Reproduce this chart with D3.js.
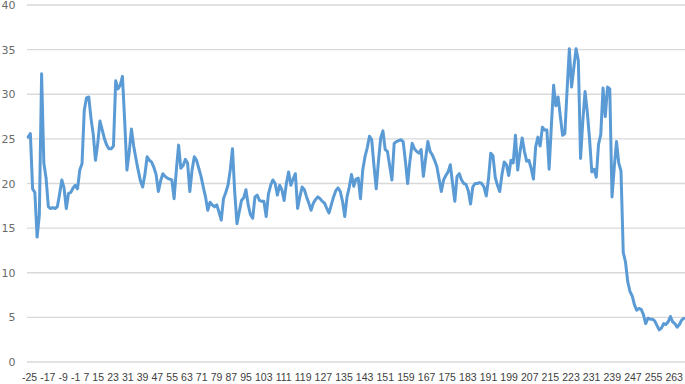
<!DOCTYPE html>
<html>
<head>
<meta charset="utf-8">
<script src="https://cdn.jsdelivr.net/npm/d3@7"></script>
<style>
  body { margin: 0; background: #fff; }
  svg { display: block; }
</style>
</head>
<body>
<svg id="chart" width="685" height="384"></svg>
<script>
// categories run -25 .. 267, one per point
const categories = d3.range(-25, 268)

const values = [
    25.2, 25.6, 19.4, 19.0, 14.0, 16.5, 32.3, 22.3, 20.6, 17.4,
    17.2, 17.3, 17.2, 17.4, 18.8, 20.4, 19.5, 17.2, 18.9, 19.0,
    19.5, 19.8, 19.4, 21.5, 22.2, 28.2, 29.6, 29.7, 27.3, 25.5,
    22.6, 24.5, 27.0, 26.0, 25.0, 24.3, 23.9, 23.9, 24.2, 31.5,
    30.6, 31.0, 32.0, 27.0, 21.5, 23.5, 26.1, 24.2, 22.8, 21.5,
    20.3, 19.6, 21.0, 23.0, 22.6, 22.4, 21.8, 21.0, 19.1, 20.3,
    21.1, 20.8, 20.6, 20.5, 20.4, 18.3, 21.5, 24.3, 21.7, 22.0,
    22.7, 22.3, 19.1, 21.5, 23.0, 22.6, 21.7, 20.8, 19.6, 18.5,
    17.0, 17.9, 17.6, 17.4, 17.6, 16.8, 15.9, 18.3, 19.0, 19.8,
    21.5, 23.9, 19.0, 15.5, 16.8, 18.1, 18.4, 19.3, 17.6, 16.5,
    16.1, 18.5, 18.7, 18.1, 18.0, 18.0, 16.3, 18.8, 19.8, 20.4,
    20.0, 18.7, 19.8, 19.3, 18.1, 20.0, 21.3, 19.8, 20.5, 21.1,
    17.2, 18.5, 19.6, 19.3, 18.5, 17.8, 17.0, 17.8, 18.2, 18.5,
    18.3, 18.0, 17.8, 17.2, 16.7, 17.6, 18.5, 19.2, 19.5, 19.1,
    18.0, 16.3, 18.5, 19.6, 21.0, 19.7, 20.5, 20.6, 18.3, 21.5,
    23.0, 24.0, 25.3, 24.9, 22.0, 19.4, 22.5, 25.1, 25.9, 23.8,
    23.6, 22.0, 20.4, 24.5, 24.7, 24.8, 24.9, 24.7, 22.5, 20.0,
    22.5, 24.5, 23.9, 23.6, 23.4, 23.8, 20.8, 22.8, 24.7, 23.6,
    23.2, 22.6, 21.9, 20.5, 19.1, 20.4, 20.9, 21.3, 22.1, 20.0,
    18.0, 20.8, 21.1, 20.4, 20.0, 19.9, 19.2, 17.7, 19.6, 20.0,
    20.0, 20.1, 20.0, 19.6, 18.6, 20.5, 23.4, 23.1, 20.7, 19.8,
    19.1, 21.0, 22.4, 22.1, 20.9, 22.6, 22.3, 25.4, 21.5, 23.5,
    25.1, 23.6, 22.5, 22.6, 21.7, 20.5, 24.1, 25.2, 24.2, 26.3,
    26.0, 26.0, 21.6, 26.5, 31.0, 28.7, 29.7, 27.5, 25.4, 25.6,
    30.5, 35.1, 30.8, 33.0, 35.1, 33.8, 22.8, 27.0, 30.3, 28.0,
    25.0, 21.3, 21.6, 20.7, 24.4, 25.5, 30.7, 27.5, 30.8, 30.6,
    18.5, 21.8, 24.7, 22.3, 21.4, 12.3, 11.2, 9.0, 7.9, 7.4,
    6.4, 5.8, 6.0, 5.9, 5.3, 4.3, 4.9, 4.8, 4.8, 4.6,
    4.1, 3.6, 3.8, 4.3, 4.2, 4.5, 5.1, 4.5, 4.3, 3.9,
    4.2, 4.7, 4.9
]

const xTickLabels = [-25, -17, -9, -1, 7, 15, 23, 31, 39, 47, 55, 63, 71, 79, 87, 95,
    103, 111, 119, 127, 135, 143, 151, 159, 167, 175, 183, 191, 199, 207, 215,
    223, 231, 239, 247, 255, 263]
const yTicks = [0, 5, 10, 15, 20, 25, 30, 35, 40]

const plot = { left: 27, right: 685, top: 5, bottom: 362 }
const svg = d3.select('#chart')

let x = d3.scaleBand()
    .domain(categories)
    .range([plot.left, plot.right])

let y = d3.scaleLinear()
    .domain([0, 40])
    .range([plot.bottom, plot.top])

const cx = d => x(d) + x.bandwidth() / 2

// horizontal gridlines
svg.append('g')
    .selectAll('line')
    .data(yTicks)
    .enter()
    .append('line')
    .attr('x1', plot.left)
    .attr('x2', plot.right)
    .attr('y1', d => y(d))
    .attr('y2', d => y(d))
    .attr('stroke', '#d9d9d9')
    .attr('stroke-width', 1.3)

// y labels
svg.append('g')
    .selectAll('text')
    .data(yTicks)
    .enter()
    .append('text')
    .attr('x', 15.5)
    .attr('y', d => y(d) + 4)
    .attr('text-anchor', 'end')
    .attr('font-family', 'DejaVu Sans, sans-serif')
    .attr('font-size', 11)
    .attr('fill', '#6b6b6b')
    .text(d => d)

// x labels: in the original they run together like one line of text,
// so lay them out one after another and squeeze the row into 22..683
const xRow = svg.append('g')
const xLabels = xRow.selectAll('text')
    .data(xTickLabels)
    .enter()
    .append('text')
    .attr('font-family', '"Liberation Sans", Arial, sans-serif')
    .attr('font-size', 11)
    .attr('fill', '#404040')
    .text(d => d)

const gap = 3.2
let pos = 0
xLabels.each(function () {
    d3.select(this).attr('x', pos)
    pos += this.getComputedTextLength() + gap
})
const rowWidth = pos - gap
const k = (683 - 22) / rowWidth
xRow.attr('transform', `translate(22,381) scale(${k},1)`)

const line = d3.line()
    .x((d, i) => cx(categories[i]))
    .y(d => y(d))

svg.append('path')
    .datum(values)
    .attr('d', line)
    .attr('fill', 'none')
    .attr('stroke', '#5b9bd5')
    .attr('stroke-width', 3)
    .attr('stroke-linejoin', 'round')
    .attr('stroke-linecap', 'round')
</script>
</body>
</html>
